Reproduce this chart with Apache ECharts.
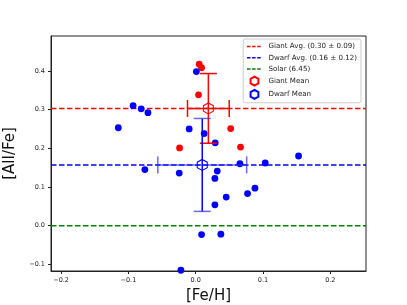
<!DOCTYPE html>
<html><head><meta charset="utf-8">
<script src="https://cdn.jsdelivr.net/npm/echarts@6/dist/echarts.min.js"></script>
<style>html,body{margin:0;padding:0;background:#fff}#c{width:407px;height:305px}</style>
</head><body><div id="c"></div>
<script>
// ---- data ----
const giantFeH = [0.0052, 0.0087, 0.0042, -0.024, 0.052, 0.0666];
const giantAl  = [0.417, 0.408, 0.338, 0.201, 0.251, 0.203];
const dwarfFeH = [-0.115, -0.093, -0.081, -0.071, -0.0755, -0.0097, 0.001, 0.0126, 0.029, -0.0245, 0.032,
                  0.0285, 0.0453, 0.0285, 0.077, 0.088, 0.0657, 0.1033, 0.1528, 0.0087, 0.0374, -0.022];
const dwarfAl  = [0.253, 0.310, 0.302, 0.292, 0.145, 0.250, 0.398, 0.238, 0.214, 0.136, 0.141,
                  0.122, 0.074, 0.054, 0.083, 0.097, 0.160, 0.162, 0.180, -0.023, -0.022, -0.115];
const giantMean = [0.0188, 0.303];
const giantErr  = [0.031, 0.09];
const dwarfMean = [0.0097, 0.157];
const dwarfErr  = [0.066, 0.12];
const solarLevel = 0.0;
const xTicks = [-0.2, -0.1, 0.0, 0.1, 0.2];
const yTicks = [-0.1, 0.0, 0.1, 0.2, 0.3, 0.4];
const xRange = [-0.215, 0.253];
const yRange = [-0.117, 0.49];
const legendNames = ['Giant Avg. (0.30 ± 0.09)', 'Dwarf Avg. (0.16 ± 0.12)', 'Solar (6.45)', 'Giant Mean', 'Dwarf Mean'];
const xName = '[Fe/H]';
const yName = '[AlI/Fe]';

// ---- chart ----
const FONT = 'DejaVu Sans';
const HEX = 'path://M0,-1 L0.866,-0.5 L0.866,0.5 L0,1 L-0.866,0.5 L-0.866,-0.5 Z';
const fmt = v => v.toFixed(1).replace('-', '\u2212');
const pairs = (xs, ys) => xs.map((x, i) => [x, ys[i]]);
const hline = v => [[xRange[0], v], [xRange[1], v]];

function errRenderer(lineColor, capColor) {
  return function (params, api) {
    const x = api.value(0), y = api.value(1), xe = api.value(2), ye = api.value(3);
    const top = api.coord([x, y + ye]), bot = api.coord([x, y - ye]);
    const l = api.coord([x - xe, y]), r = api.coord([x + xe, y]);
    const cap = 8.5, lw = 1.5;
    const ln = (x1, y1, x2, y2, c) => ({type: 'line', shape: {x1, y1, x2, y2}, style: {stroke: c, lineWidth: lw}});
    return {type: 'group', children: [
      ln(top[0], top[1], bot[0], bot[1], lineColor),
      ln(l[0], l[1], r[0], r[1], capColor),
      ln(top[0] - cap, top[1], top[0] + cap, top[1], capColor),
      ln(bot[0] - cap, bot[1], bot[0] + cap, bot[1], capColor),
      ln(l[0], l[1] - cap, l[0], l[1] + cap, capColor),
      ln(r[0], r[1] - cap, r[0], r[1] + cap, capColor)
    ]};
  };
}

const dash = [5.5, 2.5];
const legendDash = [3.5, 1.6];
const lineLegendItem = n => ({name: n, itemStyle: {color: 'rgba(0,0,0,0)', borderWidth: 0, opacity: 0},
                              lineStyle: {type: legendDash, width: 1.5}});
const chart = echarts.init(document.getElementById('c'), null, {renderer: 'canvas'});
chart.setOption({
  animation: false,
  textStyle: {fontFamily: FONT},
  grid: {left: 51, right: 41, top: 36, bottom: 34, outerBoundsMode: 'none', containLabel: false,
         show: true, borderColor: '#222', borderWidth: 1, backgroundColor: 'transparent'},
  legend: {
    data: [lineLegendItem(legendNames[0]), lineLegendItem(legendNames[1]), lineLegendItem(legendNames[2]),
           {name: legendNames[3]}, {name: legendNames[4]}],
    orient: 'vertical', right: 46, top: 39,
    padding: [3, 4, 3, 3], itemGap: 2.2, itemWidth: 15, itemHeight: 9,
    backgroundColor: '#fff', borderColor: '#ccc', borderWidth: 1, borderRadius: 2,
    textStyle: {fontFamily: FONT, fontSize: 7.1, color: '#222', lineHeight: 9, padding: [0, 0, 0, 1.5]},
    selectedMode: false
  },
  xAxis: {
    type: 'value', min: xRange[0], max: xRange[1],
    name: xName, nameLocation: 'middle', nameGap: 15,
    nameTextStyle: {fontFamily: FONT, fontSize: 15, color: '#111'},
    axisLine: {show: true, onZero: false, lineStyle: {color: '#222', width: 1}},
    axisTick: {show: true, length: 3, customValues: xTicks, lineStyle: {color: '#222'}},
    axisLabel: {customValues: xTicks, formatter: fmt, fontSize: 6.5, color: '#222', margin: 6, fontFamily: FONT},
    splitLine: {show: false}
  },
  yAxis: {
    type: 'value', min: yRange[0], max: yRange[1],
    name: yName, nameLocation: 'middle', nameGap: 33, nameRotate: 90,
    nameTextStyle: {fontFamily: FONT, fontSize: 15, color: '#111'},
    axisLine: {show: true, onZero: false, lineStyle: {color: '#222', width: 1}},
    axisTick: {show: true, length: 3, customValues: yTicks, lineStyle: {color: '#222'}},
    axisLabel: {customValues: yTicks, formatter: fmt, fontSize: 6.5, color: '#222', margin: 6, fontFamily: FONT},
    splitLine: {show: false}
  },
  series: [
    {name: legendNames[0], type: 'line', data: hline(giantMean[1]), symbol: 'none', silent: true, z: 1,
     lineStyle: {color: '#ff0000', width: 1.5, type: dash}, itemStyle: {color: '#ff0000'}},
    {name: legendNames[1], type: 'line', data: hline(dwarfMean[1]), symbol: 'none', silent: true, z: 1,
     lineStyle: {color: '#0000ff', width: 1.5, type: dash}, itemStyle: {color: '#0000ff'}},
    {name: legendNames[2], type: 'line', data: hline(solarLevel), symbol: 'none', silent: true, z: 1,
     lineStyle: {color: '#008000', width: 1.5, type: dash}, itemStyle: {color: '#008000'}},
    {name: 'Giants', type: 'scatter', data: pairs(giantFeH, giantAl), symbol: 'circle', symbolSize: 6.8, z: 2,
     itemStyle: {color: '#ff0000', opacity: 1}},
    {name: 'Dwarfs', type: 'scatter', data: pairs(dwarfFeH, dwarfAl), symbol: 'circle', symbolSize: 6.8, z: 2,
     itemStyle: {color: '#0000ff', opacity: 1}},
    {name: 'GiantErr', type: 'custom', z: 3, encode: {x: 0, y: 1},
     data: [[giantMean[0], giantMean[1], giantErr[0], giantErr[1]]],
     renderItem: errRenderer('#ff0000', '#ff0000')},
    {name: 'DwarfErr', type: 'custom', z: 3, encode: {x: 0, y: 1},
     data: [[dwarfMean[0], dwarfMean[1], dwarfErr[0], dwarfErr[1]]],
     renderItem: errRenderer('#0000ff', 'rgba(40,40,255,0.7)')},
    {name: legendNames[3], type: 'scatter', data: [giantMean], symbol: HEX, symbolSize: [10, 11], z: 4,
     itemStyle: {color: 'rgba(0,0,0,0)', borderColor: '#ff0000', borderWidth: 1.1, opacity: 1}},
    {name: legendNames[4], type: 'scatter', data: [dwarfMean], symbol: HEX, symbolSize: [10, 11], z: 4,
     itemStyle: {color: 'rgba(0,0,0,0)', borderColor: '#0000ff', borderWidth: 1.1, opacity: 1}}
  ]
});
</script>
</body></html>
